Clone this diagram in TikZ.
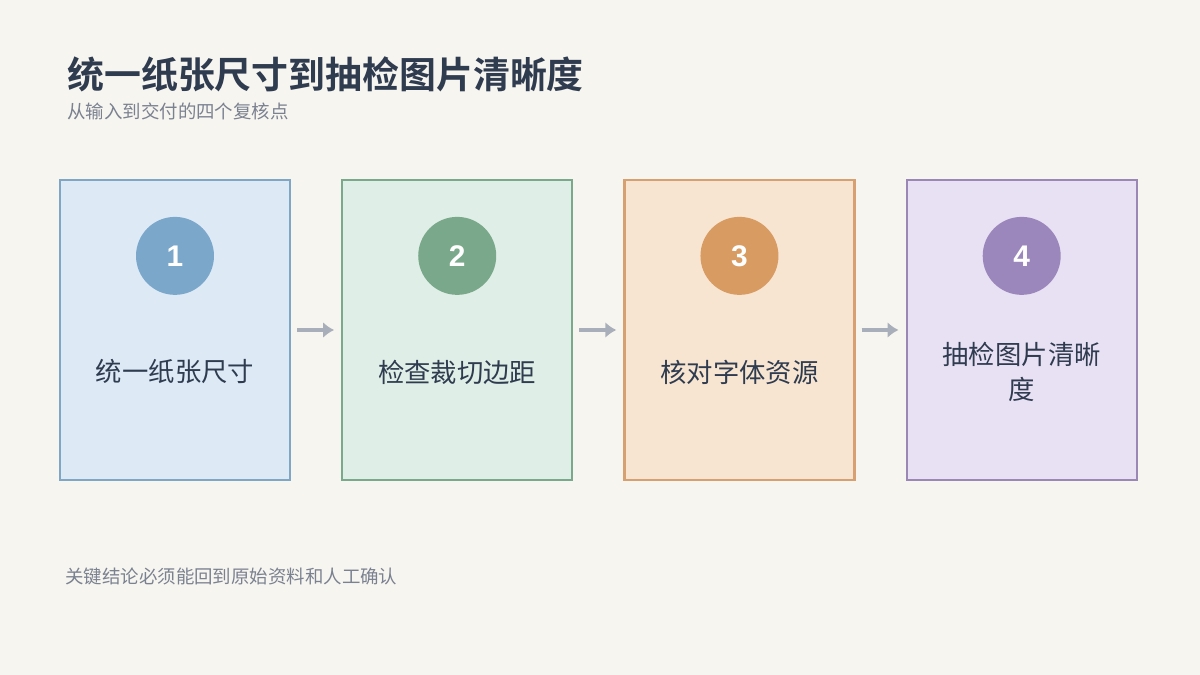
\documentclass[tikz,border=0pt]{standalone}
\usepackage{fontspec}
\newfontfamily\cjk{Noto Sans CJK SC}
\newfontfamily\cjkb{Noto Sans CJK SC}[BoldFont={* Bold}]
\setsansfont{Liberation Sans}
\usetikzlibrary{positioning}
\definecolor{bgc}{HTML}{F7F5F0}
\definecolor{ttl}{HTML}{2F3B4F}
\definecolor{sub}{HTML}{7A8190}
\definecolor{arr}{HTML}{A9AFBA}
\definecolor{fa}{HTML}{DDEAF6}\definecolor{da}{HTML}{7FA7C5}\definecolor{ca}{HTML}{7BA7CB}
\definecolor{fb}{HTML}{DFEEE6}\definecolor{db}{HTML}{7AA88A}\definecolor{cb}{HTML}{7AA88A}
\definecolor{fc}{HTML}{F7E5D1}\definecolor{dc}{HTML}{D6A070}\definecolor{cc}{HTML}{D89B62}
\definecolor{fd}{HTML}{E8E0F3}\definecolor{dd}{HTML}{9B87B5}\definecolor{cd}{HTML}{9B87BB}
\begin{document}
\begin{tikzpicture}[x=0.02cm,y=-0.02cm,
  box/.style={draw=d#1, fill=f#1, line width=1.3pt, minimum width=4.6cm, minimum height=6cm, inner sep=0pt},
  num/.style={circle, fill=c#1, minimum size=1.56cm, inner sep=0pt, text=white, font=\sffamily\bfseries\fontsize{17}{17}\selectfont},
  lbl/.style={text=ttl, align=center, font=\cjk\fontsize{15}{20}\selectfont},
  link/.style={draw=arr, line width=2.2pt, -{Latex[length=2.2mm,width=3.2mm]}},
  node distance=1cm]
\usetikzlibrary{arrows.meta}
\fill[bgc] (0,0) rectangle (1200,675);
\node[anchor=base west, text=ttl, font=\cjkb\bfseries\fontsize{21}{21}\selectfont, inner sep=0pt] (title) at (67,89) {统一纸张尺寸到抽检图片清晰度};
\node[anchor=base west, text=sub, font=\cjk\fontsize{10.5}{12}\selectfont, inner sep=0pt] (subtitle) at (67,119) {从输入到交付的四个复核点};
% steps
\node[box=a] (A) at (175,330) {};
\node[box=b, right=of A] (B) {};
\node[box=c, right=of B] (C) {};
\node[box=d, right=of C] (D) {};
\foreach \s/\c/\n in {A/a/1, B/b/2, C/c/3, D/d/4}
  \node[num=\c] (\s n) at ([yshift=-1.54cm]\s.north) {\n};
\node[lbl] (At) at ([yshift=-0.84cm]A.center) {统一纸张尺寸};
\node[lbl] (Bt) at ([yshift=-0.84cm]B.center) {检查裁切边距};
\node[lbl] (Ct) at ([yshift=-0.84cm]C.center) {核对字体资源};
\node[lbl] (Dt) at ([yshift=-0.84cm]D.center) {抽检图片清晰\\度};
\foreach \a/\b in {A/B, B/C, C/D}
  \draw[link] ([xshift=0.12cm]\a.east) -- ([xshift=-0.14cm]\b.west);
\node[anchor=base west, text=sub, font=\cjk\fontsize{10.5}{12}\selectfont, inner sep=0pt] (note) at (65,583) {关键结论必须能回到原始资料和人工确认};
\end{tikzpicture}
\end{document}
